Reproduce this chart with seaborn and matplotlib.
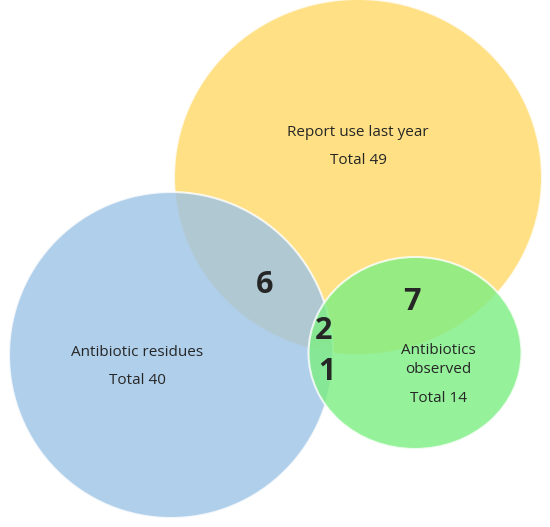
import matplotlib
matplotlib.use("Agg")
import matplotlib.pyplot as plt
from matplotlib.patches import Ellipse
import seaborn as sns

sns.set_theme(style="white")
plt.rcParams['font.family'] = ['Open Sans', 'DejaVu Sans']

set_names = ["Report use last year", "Antibiotic residues", "Antibiotics\nobserved"]
set_totals = [49, 40, 14]
overlap_labels = ["6", "7", "2", "1"]
colors = ["#FFD966", "#9DC3E6", "#7CEE82"]

fig = plt.figure(figsize=(5.5, 5.27), dpi=100)
ax = fig.add_axes([0, 0, 1, 1])
ax.set_xlim(0, 550); ax.set_ylim(527, 0); ax.axis("off")

shapes = [((358, 177), 368, 356), ((171, 355), 324, 326), ((415, 353), 213, 192)]
for (c, w, h), col in zip(shapes, colors):
    ax.add_patch(Ellipse(c, w, h, facecolor=col, alpha=0.8, edgecolor="white", lw=1.5))

ax.text(358, 132, set_names[0], ha="center", va="center", fontsize=11)
ax.text(358, 160, f"Total {set_totals[0]}", ha="center", va="center", fontsize=11)
ax.text(137, 352, set_names[1], ha="center", va="center", fontsize=11)
ax.text(137, 380, f"Total {set_totals[1]}", ha="center", va="center", fontsize=11)
ax.text(438, 360, set_names[2], ha="center", va="center", fontsize=11, linespacing=1.3)
ax.text(438, 399, f"Total {set_totals[2]}", ha="center", va="center", fontsize=11)

pos = [(265, 285), (412, 302), (324, 331), (327, 372)]
for t, (x, y) in zip(overlap_labels, pos):
    ax.text(x, y, t, ha="center", va="center", fontsize=22, fontweight="bold")

fig.savefig("out.png", dpi=100)
